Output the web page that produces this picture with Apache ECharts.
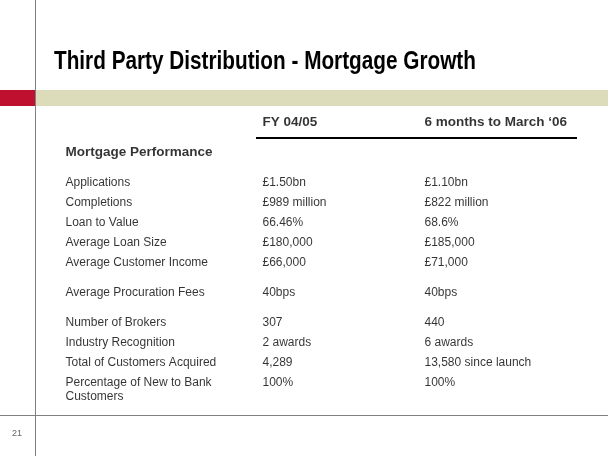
<!DOCTYPE html>
<html>
<head>
<meta charset="utf-8">
<script src="https://cdn.jsdelivr.net/npm/echarts@6/dist/echarts.min.js"></script>
<style>
html, body { margin: 0; padding: 0; background: #fff; }
#chart { width: 608px; height: 456px; }
</style>
</head>
<body>
<div id="chart"></div>
<script>
// slide content
const slideTitle = 'Third Party Distribution - Mortgage Growth';
const columnHeads = ['FY 04/05', '6 months to March \u201806'];
const sectionTitle = 'Mortgage Performance';
const rowLabels = [
    'Applications', 'Completions', 'Loan to Value', 'Average Loan Size', 'Average Customer Income',
    'Average Procuration Fees',
    'Number of Brokers', 'Industry Recognition', 'Total of Customers Acquired', 'Percentage of New to Bank\nCustomers'
];
const fy0405 = ['£1.50bn', '£989 million', '66.46%', '£180,000', '£66,000', '40bps', '307', '2 awards', '4,289', '100%'];
const sixMonths = ['£1.10bn', '£822 million', '68.6%', '£185,000', '£71,000', '40bps', '440', '6 awards', '13,580 since launch', '100%'];
const sectionSizes = [5, 1, 4];
const pageNumber = '21';

// layout
const colX = [66, 263, 425];
const headY = 123;
const sectionY = 153;
const firstRowY = 183;
const rowStep = 20;
const sectionGap = 10;
const font = "'Liberation Sans', Arial, sans-serif";

let rowY = [];
let y = firstRowY;
sectionSizes.forEach(function (n, s) {
    if (s > 0) y += sectionGap;
    for (let i = 0; i < n; i++) {
        rowY.push(y);
        y += rowStep;
    }
});

function textSeries(texts, x, ys, size, bold) {
    return {
        type: 'scatter',
        symbolSize: 1,
        itemStyle: { color: 'transparent' },
        silent: true,
        data: texts.map(function (t, i) { return { name: t, value: [x, ys[i]] }; }),
        label: {
            show: true,
            position: [0, -7],
            formatter: '{b}',
            color: '#000',
            fontFamily: font,
            fontSize: size,
            fontWeight: bold ? 'bold' : 'normal',
            lineHeight: 14
        }
    };
}

let chart = echarts.init(document.getElementById('chart'));
const option = {
    animation: false,
    grid: { left: 0, right: 0, top: 0, bottom: 0 },
    xAxis: { type: 'value', min: 0, max: 608, show: false },
    yAxis: { type: 'value', min: 0, max: 456, inverse: true, show: false },
    graphic: [
        { type: 'rect', shape: { x: 0, y: 90, width: 35, height: 16 }, style: { fill: '#C0102F' } },
        { type: 'rect', shape: { x: 35, y: 90, width: 573, height: 16 }, style: { fill: '#DCDCBA' } },
        { type: 'line', shape: { x1: 35.5, y1: 0, x2: 35.5, y2: 456 }, style: { stroke: '#808080', lineWidth: 1 } },
        { type: 'line', shape: { x1: 0, y1: 415.5, x2: 608, y2: 415.5 }, style: { stroke: '#808080', lineWidth: 1 } },
        { type: 'line', shape: { x1: 256, y1: 138, x2: 577, y2: 138 }, style: { stroke: '#000', lineWidth: 2 } },
        {
            type: 'text', x: 54, y: 62, scaleX: 0.83,
            style: { text: slideTitle, x: 0, y: 0, fill: '#000', font: 'bold 25px ' + font, textVerticalAlign: 'middle' }
        },
        {
            type: 'text', x: 12, y: 434,
            style: { text: pageNumber, fill: '#666', font: '9px ' + font, textVerticalAlign: 'middle' }
        }
    ],
    series: [
        textSeries([columnHeads[0]], colX[1], [headY], 13.5, true),
        textSeries([columnHeads[1]], colX[2], [headY], 13.5, true),
        textSeries([sectionTitle], colX[0], [sectionY], 13.5, true),
        textSeries(rowLabels, colX[0], rowY, 12, false),
        textSeries(fy0405, colX[1], rowY, 12, false),
        textSeries(sixMonths, colX[2], rowY, 12, false)
    ]
};
chart.setOption(option);

window.addEventListener('resize', function () {
    chart.resize();
});
</script>
</body>
</html>
